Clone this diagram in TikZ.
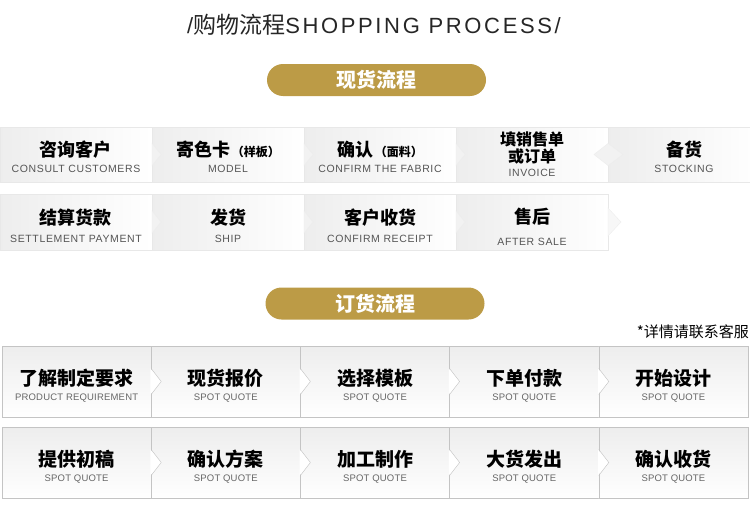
\documentclass[tikz,border=0pt]{standalone}
\usepackage{fontspec}
\setmainfont{Liberation Sans}
\newfontfamily\cjk{Noto Sans CJK SC}
\usetikzlibrary{positioning,calc}
\definecolor{gold}{HTML}{BC9B46}
\definecolor{engray}{HTML}{555555}
\definecolor{lowgray}{HTML}{666666}
\definecolor{frame}{HTML}{C4C4C4}
% first-line struts push the text block down a little
\newcommand{\cnup}[2][19.5pt]{{\cjk\bfseries\fontsize{18}{18}\selectfont\rule{0pt}{#1}#2}}
\newcommand{\cnsm}[1]{{\cjk\bfseries\fontsize{12}{12}\selectfont #1}}
\newcommand{\cnmid}[1]{{\cjk\bfseries\fontsize{16}{16}\selectfont #1}}
\newcommand{\cnlow}[1]{{\cjk\bfseries\fontsize{19}{19}\selectfont\rule{0pt}{25pt}#1}}
\newcommand{\enup}[1]{{\fontsize{10.5}{10.5}\selectfont\addfontfeatures{LetterSpace=6}\color{engray}#1}}
\newcommand{\enlow}[1]{{\fontsize{9.5}{9.5}\selectfont\addfontfeatures{LetterSpace=2}\color{lowgray}#1}}
\tikzset{
  upbox/.style={rectangle, minimum width=152pt, minimum height=55pt, inner sep=0pt, outer sep=0pt,
    left color=black!7, right color=white, draw=black!9, align=center, font=\fontsize{11}{16}\selectfont},
  upbox2/.style={upbox, minimum height=56pt, font=\fontsize{11}{18}\selectfont},
  lowbox/.style={rectangle, minimum width=149.2pt, minimum height=71pt, inner sep=0pt, outer sep=0pt,
    top color=black!7, middle color=white, bottom color=white, draw=frame, align=center,
    font=\fontsize{10}{15}\selectfont},
  pill/.style={rectangle, rounded corners=16pt, fill=gold, text=white, minimum width=219pt,
    minimum height=32pt, font=\cjk\bfseries\fontsize{20}{20}\selectfont},
  chev/.style={fill=black!5, draw=black!7},
  divline/.style={draw=frame},
}
\begin{document}
\begin{tikzpicture}[x=1pt,y=-1pt]
\useasboundingbox (0,0) rectangle (750,514);
% heading
\node[text=black!85, font=\fontsize{22}{22}\selectfont\addfontfeatures{LetterSpace=12}] (title) at (374,25)
  {/{\cjk\fontsize{23}{23}\selectfont 购物流程}SHOPPING PROCESS/};
\node[pill] (spot) at (376.5,80) {现货流程};

% spot goods, first row
\node[upbox] (u1) at (76,154.5) {\cnup{咨询客户}\\\enup{CONSULT CUSTOMERS}};
\node[upbox, right=0pt of u1] (u2) {\cnup{寄色卡}\,\cnsm{（样板）}\\\enup{MODEL}};
\node[upbox, right=0pt of u2] (u3) {\cnup{确认}\,\cnsm{（面料）}\\\enup{CONFIRM THE FABRIC}};
\node[upbox, right=0pt of u3, font=\fontsize{11}{14.5}\selectfont] (u4) {\cnmid{填销售单}\\\cnmid{或订单}\\\enup{INVOICE}};
\node[upbox, right=0pt of u4] (u5) {\cnup{备货}\\\enup{STOCKING}};

% spot goods, second row
\node[upbox2] (v1) at (76,222) {\cnup[24pt]{结算货款}\\\enup{SETTLEMENT PAYMENT}};
\node[upbox2, right=0pt of v1] (v2) {\cnup[24pt]{发货}\\\enup{SHIP}};
\node[upbox2, right=0pt of v2] (v3) {\cnup[24pt]{客户收货}\\\enup{CONFIRM RECEIPT}};
\node[upbox2, right=0pt of v3, font=\fontsize{11}{22}\selectfont] (v4) {\cnup[25pt]{售后}\\\enup{AFTER SALE}};

\foreach \n in {u1,u2,u3,v1,v2,v3}
  \filldraw[chev] ($(\n.east)+(0,-11)$) -- ($(\n.east)+(9,0)$) -- ($(\n.east)+(0,11)$) -- cycle;
\filldraw[chev] ($(u4.east)+(-14,0)$) -- ($(u4.east)+(0,-11)$) -- ($(u4.east)+(15,0)$) -- ($(u4.east)+(0,11)$) -- cycle;
\filldraw[chev, fill=black!3] ($(v4.east)+(0,-14)$) -- ($(v4.east)+(13,0)$) -- ($(v4.east)+(0,14)$) -- cycle;

% made to order
\node[pill] (order) at (375,303.5) {订货流程};
\node[anchor=east, inner sep=0pt, font=\cjk\fontsize{15}{15}\selectfont] (note) at (749,332) {*详情请联系客服};

\node[lowbox] (p1) at (76.6,381.5) {\cnlow{了解制定要求}\\\enlow{PRODUCT REQUIREMENT}};
\node[lowbox, right=0pt of p1] (p2) {\cnlow{现货报价}\\\enlow{SPOT QUOTE}};
\node[lowbox, right=0pt of p2] (p3) {\cnlow{选择模板}\\\enlow{SPOT QUOTE}};
\node[lowbox, right=0pt of p3] (p4) {\cnlow{下单付款}\\\enlow{SPOT QUOTE}};
\node[lowbox, right=0pt of p4] (p5) {\cnlow{开始设计}\\\enlow{SPOT QUOTE}};

\node[lowbox] (q1) at (76.6,462.5) {\cnlow{提供初稿}\\\enlow{SPOT QUOTE}};
\node[lowbox, right=0pt of q1] (q2) {\cnlow{确认方案}\\\enlow{SPOT QUOTE}};
\node[lowbox, right=0pt of q2] (q3) {\cnlow{加工制作}\\\enlow{SPOT QUOTE}};
\node[lowbox, right=0pt of q3] (q4) {\cnlow{大货发出}\\\enlow{SPOT QUOTE}};
\node[lowbox, right=0pt of q4] (q5) {\cnlow{确认收货}\\\enlow{SPOT QUOTE}};

\foreach \n in {p1,p2,p3,p4,q1,q2,q3,q4} {
  \fill[white] ($(\n.east)+(-0.8,-13)$) -- ($(\n.east)+(10,0)$) -- ($(\n.east)+(-0.8,13)$) -- cycle;
  \draw[divline] ($(\n.east)+(0,-13)$) -- ($(\n.east)+(10,0)$) -- ($(\n.east)+(0,13)$);
}
\end{tikzpicture}
\end{document}
